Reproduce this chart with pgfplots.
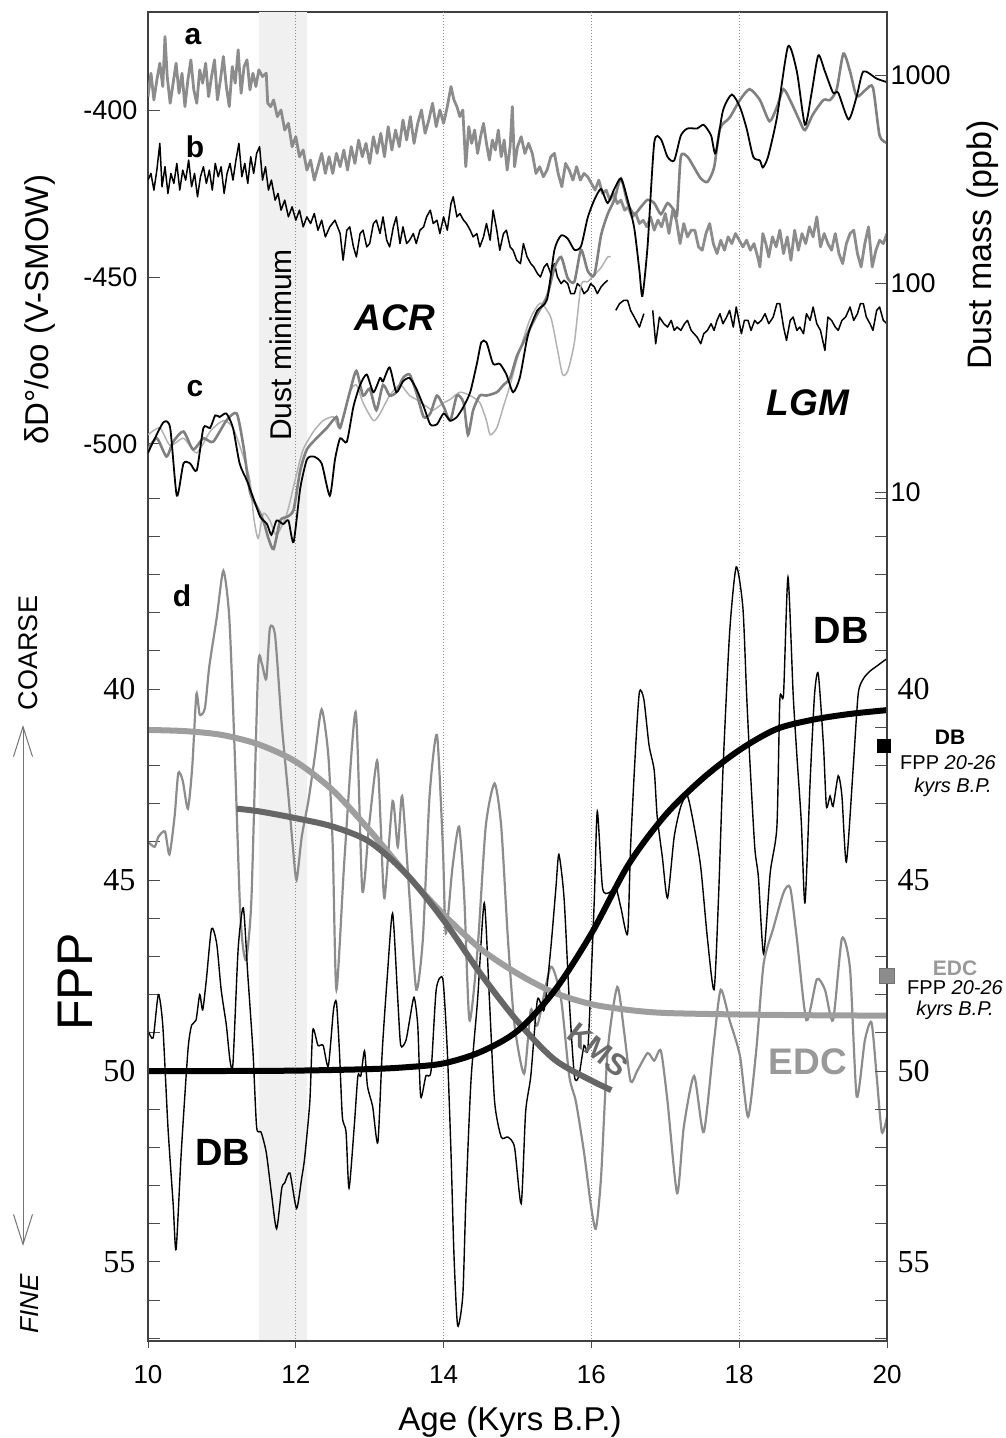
\documentclass[border=0pt]{standalone}
\usepackage{fontspec}
\setmainfont{Liberation Sans}
\newfontfamily\tms{Liberation Serif}
\usepackage{pgfplots}
\pgfplotsset{compat=1.18}
\usetikzlibrary{arrows.meta}
\newcommand{\fs}[1]{\fontsize{#1}{#1}\selectfont}
\begin{document}
\begin{tikzpicture}[x=1pt,y=1pt]
\path[use as bounding box] (0,0) rectangle (1005,1438);
\pgfplotsset{base/.style={scale only axis, width=739pt, height=1329pt, at={(148pt,97pt)}, anchor=south west,
  xmin=10, xmax=20, tick align=inside, major tick length=12pt, minor tick length=12pt, minor tick num=0,
  tick style={black!70, line width=1pt}, axis line style={black!75, line width=1.2pt}},
  noticks/.style={major tick length=0pt, minor tick length=0pt, tick style={draw=none}, minor tick style={draw=none}}}
% ---------------- Axis A : FPP (left) + frame ----------------
\begin{axis}[base, y dir=reverse, ymin=22.27, ymax=57.07, xtick=\empty, ytick pos=left,
  ytick={35,36,37,38,39,40,41,42,43,44,45,46,47,48,49,50,51,52,53,54,55,56,57},
  yticklabels={,,,,,40,,,,,45,,,,,50,,,,,55,,},
  extra y ticks={24.84,29.21,33.58}, extra y tick labels={},
  yticklabel style={font=\tms\fs{32}, xshift=-9pt}]
\fill[black!6] (axis cs:11.5,22.27) rectangle (axis cs:12.15,57.07);
\pgfplotsinvokeforeach{12,14,16,18}{\draw[black!45, dotted, line width=1pt] (axis cs:#1,22.27) -- (axis cs:#1,57.07);}
% EDC FPP
\addplot[black!45, line width=2.2pt, smooth, tension=0.4] table {
10.00 44.00
10.09 44.13
10.14 43.87
10.23 43.73
10.29 44.33
10.36 43.33
10.41 42.20
10.47 42.40
10.54 43.13
10.60 42.00
10.655 40.13
10.70 40.67
10.77 40.50
10.83 39.40
10.93 38.13
11.02 36.90
11.10 38.13
11.17 41.47
11.24 45.47
11.28 46.67
11.33 47.07
11.40 45.47
11.49 39.47
11.54 39.33
11.60 39.73
11.65 38.40
11.72 38.60
11.81 40.93
11.90 42.80
11.96 44.13
12.01 45.00
12.08 43.87
12.17 42.93
12.26 41.73
12.35 40.53
12.44 41.73
12.50 44.13
12.55 47.87
12.66 44.40
12.81 40.60
12.90 45.27
12.99 43.60
13.10 41.87
13.15 43.60
13.20 45.47
13.31 42.93
13.38 44.13
13.44 42.80
13.54 45.47
13.63 47.87
13.72 46.53
13.81 42.80
13.91 41.20
13.99 44.13
14.03 46.40
14.12 44.67
14.21 43.60
14.28 45.47
14.35 48.67
14.46 46.80
14.57 43.60
14.69 42.47
14.78 43.60
14.87 46.53
14.96 48.80
15.09 50.07
15.18 48.40
15.27 48.80
15.45 47.27
15.59 48.13
15.70 50.13
15.79 50.80
15.90 52.13
15.99 53.47
16.06 54.13
16.13 52.80
16.22 49.47
16.35 47.80
16.44 48.93
16.53 50.27
16.62 50.00
16.76 49.53
16.85 49.73
16.94 49.47
17.03 50.80
17.16 53.20
17.25 51.47
17.39 50.13
17.52 51.60
17.66 49.20
17.75 47.87
17.87 48.67
18.01 49.60
18.12 51.20
18.23 49.47
18.33 47.20
18.46 46.27
18.60 45.33
18.69 45.20
18.78 46.53
18.91 48.67
19.05 47.60
19.16 47.87
19.27 48.67
19.39 46.53
19.50 47.33
19.59 50.67
19.70 49.20
19.79 48.73
19.86 50.13
19.93 51.60
20.00 51.20
};
% DB FPP
\addplot[black, line width=1.4pt, smooth, tension=0.4] table {
10.00 48.93
10.07 49.13
10.14 48.00
10.20 48.80
10.27 51.47
10.34 53.47
10.38 54.67
10.45 52.13
10.54 49.47
10.59 48.80
10.65 48.67
10.70 48.00
10.74 48.40
10.79 47.60
10.86 46.27
10.93 46.67
10.99 47.87
11.06 48.80
11.11 49.73
11.15 49.80
11.22 46.80
11.29 45.73
11.35 47.47
11.42 49.47
11.47 51.47
11.53 51.60
11.60 52.13
11.67 53.20
11.74 54.13
11.81 53.07
11.85 52.93
11.92 52.67
12.01 53.60
12.08 52.80
12.12 52.27
12.19 50.80
12.23 48.93
12.30 49.33
12.37 49.33
12.44 49.87
12.51 48.40
12.55 48.20
12.59 49.47
12.63 51.20
12.68 51.60
12.72 53.07
12.79 51.47
12.84 50.13
12.88 50.13
12.93 49.47
12.97 50.40
13.04 50.93
13.11 51.87
13.17 49.47
13.24 47.47
13.31 45.87
13.38 48.13
13.42 49.33
13.49 49.20
13.54 48.67
13.60 48.07
13.65 48.80
13.69 50.67
13.76 50.13
13.83 50.00
13.90 47.87
13.99 47.60
14.05 49.47
14.10 52.13
14.14 54.80
14.19 56.67
14.26 55.87
14.30 53.47
14.37 50.27
14.46 48.13
14.55 45.60
14.62 48.13
14.69 50.80
14.78 51.73
14.87 51.73
14.96 52.00
15.05 53.47
15.11 51.07
15.18 50.13
15.27 48.13
15.36 48.40
15.45 46.80
15.52 45.20
15.56 44.33
15.63 45.47
15.70 48.13
15.77 50.13
15.83 50.13
15.90 49.33
15.95 49.47
15.99 47.87
16.04 45.47
16.08 43.20
16.15 45.20
16.24 45.33
16.33 45.20
16.40 45.73
16.49 46.40
16.53 44.13
16.60 41.47
16.65 40.07
16.71 40.27
16.78 41.47
16.85 42.13
16.89 43.33
16.96 44.40
17.03 45.47
17.12 43.87
17.21 43.07
17.30 42.80
17.39 43.60
17.48 44.67
17.57 46.53
17.66 47.87
17.72 45.47
17.78 42.13
17.87 38.53
17.96 36.80
18.05 37.87
18.10 40.13
18.14 41.73
18.21 44.13
18.26 44.93
18.33 46.93
18.42 44.80
18.51 43.60
18.55 40.27
18.60 40.13
18.66 37.07
18.73 40.13
18.78 41.73
18.84 43.47
18.89 45.60
18.96 42.40
19.02 40.13
19.07 39.60
19.14 41.47
19.18 43.07
19.23 42.80
19.27 43.07
19.34 42.27
19.39 42.80
19.45 44.53
19.54 42.13
19.61 40.13
19.68 39.73
19.77 39.53
19.86 39.40
19.95 39.27
20.00 39.20
};
% EDC fit
\addplot[black!38, line width=6pt, smooth] table {
10.0 41.07
10.5 41.10
11.0 41.20
11.5 41.45
12.0 41.90
12.5 42.65
13.0 43.70
13.5 44.85
14.0 45.90
14.5 46.80
15.0 47.45
15.5 47.95
16.0 48.25
16.5 48.40
17.0 48.48
18.0 48.52
19.0 48.54
20.0 48.55
};
% KMS fit
\addplot[black!60, line width=6pt, smooth] table {
11.20 43.13
11.50 43.20
12.00 43.38
12.50 43.60
13.00 44.00
13.50 44.85
14.00 46.05
14.50 47.45
15.00 48.70
15.50 49.70
16.00 50.25
16.27 50.50
};
% DB fit
\addplot[black, line width=6pt, smooth] table {
10.0 50.00
11.0 50.00
12.0 49.99
13.0 49.95
13.5 49.90
14.0 49.80
14.5 49.50
15.0 48.95
15.5 47.90
16.0 46.40
16.5 44.60
17.0 43.30
17.5 42.35
18.0 41.60
18.5 41.05
19.0 40.80
19.5 40.65
20.0 40.55
};
\end{axis}
% ---------------- Axis B : delta D ----------------
\begin{axis}[base, noticks, axis x line=none, xtick=\empty, axis y line*=left, ymin=-768.57, ymax=-370.66, ytick pos=left,
  ytick={-400,-450,-500}, yticklabels={-400,-450,-500},
  yticklabel style={font=\fs{27}, xshift=-7pt}]
\addplot[black!45, line width=2.8pt, line join=round] table {
10.00 -396
10.04 -389
10.08 -397
10.12 -391
10.16 -386
10.20 -393
10.23 -378
10.26 -390
10.30 -398
10.34 -392
10.38 -386
10.42 -395
10.46 -389
10.50 -399
10.54 -391
10.58 -385
10.62 -394
10.66 -398
10.70 -388
10.74 -392
10.78 -386
10.82 -396
10.86 -390
10.90 -385
10.94 -397
10.98 -391
11.02 -384
11.06 -393
11.10 -399
11.14 -387
11.18 -392
11.22 -382
11.26 -395
11.30 -387
11.34 -385
11.38 -394
11.42 -389
11.46 -393
11.50 -388
11.55 -390
11.60 -389
11.62 -398
11.66 -399
11.70 -397
11.75 -402
11.80 -400
11.85 -406
11.90 -404
11.95 -411
12.00 -408
12.05 -414
12.10 -412
12.15 -418
12.20 -415
12.25 -421
12.30 -417
12.35 -413
12.40 -419
12.45 -414
12.50 -419
12.55 -413
12.60 -417
12.65 -412
12.70 -418
12.75 -411
12.80 -416
12.85 -409
12.90 -414
12.95 -410
13.00 -416
13.05 -408
13.10 -413
13.15 -407
13.20 -414
13.25 -405
13.30 -412
13.35 -406
13.40 -411
13.45 -403
13.50 -409
13.55 -402
13.60 -410
13.65 -404
13.70 -400
13.75 -407
13.80 -403
13.85 -398
13.90 -405
13.95 -400
14.00 -404
14.05 -399
14.10 -393
14.14 -397
14.18 -399
14.22 -402
14.26 -400
14.30 -417
14.34 -405
14.38 -410
14.42 -406
14.46 -413
14.50 -408
14.54 -404
14.58 -410
14.62 -415
14.66 -409
14.70 -412
14.74 -406
14.78 -414
14.82 -409
14.86 -418
14.90 -411
14.93 -399
14.96 -417
15.00 -411
15.05 -408
15.10 -413
15.15 -410
15.20 -413
15.25 -419
15.30 -417
15.35 -420
15.40 -418
15.45 -414
15.50 -413
15.55 -419
15.60 -423
15.65 -416
15.70 -418
15.75 -421
15.80 -417
15.85 -421
15.90 -419
15.95 -420
16.00 -422
16.05 -424
16.10 -421
16.15 -425
16.20 -424
16.25 -427
16.30 -425
16.35 -428
16.40 -427
16.45 -430
16.50 -429
16.55 -432
16.60 -431
16.65 -434
16.70 -433
16.75 -435
16.80 -432
16.85 -436
16.90 -433
16.95 -435
17.00 -431
17.05 -437
17.10 -430
17.15 -433
17.20 -440
17.25 -434
17.30 -438
17.35 -436
17.40 -436
17.45 -441
17.50 -442
17.55 -437
17.60 -434
17.65 -440
17.70 -443
17.75 -439
17.80 -442
17.85 -438
17.90 -440
17.95 -437
18.00 -439
18.05 -441
18.10 -439
18.15 -442
18.20 -440
18.25 -444
18.28 -447
18.32 -437
18.36 -440
18.40 -444
18.45 -438
18.50 -441
18.55 -436
18.60 -443
18.65 -438
18.70 -445
18.75 -436
18.80 -442
18.85 -437
18.90 -440
18.95 -435
19.00 -438
19.05 -432
19.10 -441
19.15 -437
19.20 -440
19.25 -442
19.30 -437
19.35 -443
19.40 -446
19.45 -440
19.50 -437
19.55 -436
19.60 -443
19.65 -447
19.70 -440
19.75 -435
19.80 -447
19.85 -442
19.90 -439
19.95 -440
20.00 -437
};
\addplot[black, line width=1.5pt, line join=round] table {
10.00 -421
10.04 -419
10.08 -424
10.12 -418
10.16 -410
10.19 -423
10.23 -417
10.27 -425
10.31 -419
10.35 -422
10.39 -416
10.43 -424
10.47 -418
10.51 -421
10.55 -415
10.59 -423
10.63 -419
10.67 -426
10.71 -420
10.75 -417
10.79 -422
10.83 -418
10.87 -424
10.91 -416
10.95 -420
10.99 -417
11.03 -425
11.07 -419
11.11 -416
11.15 -421
11.19 -415
11.23 -410
11.27 -420
11.31 -416
11.35 -422
11.39 -414
11.43 -419
11.47 -413
11.51 -411
11.55 -421
11.59 -417
11.63 -424
11.67 -421
11.72 -427
11.76 -425
11.80 -430
11.85 -427
11.90 -432
11.95 -429
12.00 -433
12.05 -430
12.10 -435
12.15 -432
12.20 -434
12.25 -431
12.30 -436
12.35 -433
12.40 -438
12.46 -435
12.53 -433
12.60 -437
12.64 -445
12.69 -436
12.73 -435
12.78 -441
12.82 -444
12.87 -437
12.91 -436
12.96 -441
13.00 -440
13.05 -434
13.09 -433
13.14 -437
13.18 -432
13.23 -439
13.27 -441
13.32 -435
13.36 -432
13.41 -440
13.45 -435
13.50 -440
13.54 -439
13.59 -437
13.63 -440
13.68 -436
13.73 -435
13.77 -432
13.82 -430
13.86 -434
13.91 -433
13.95 -437
14.00 -432
14.05 -436
14.10 -428
14.13 -426
14.18 -432
14.22 -431
14.27 -433
14.31 -434
14.36 -436
14.40 -438
14.45 -437
14.49 -441
14.54 -438
14.58 -434
14.63 -439
14.67 -430
14.72 -436
14.76 -442
14.81 -437
14.85 -436
14.90 -441
14.94 -442
14.99 -445
15.04 -446
15.08 -440
15.13 -444
15.18 -446
15.22 -447
15.27 -449
15.31 -450
15.36 -447
15.40 -446
15.45 -449
15.50 -446
15.54 -450
15.59 -452
15.63 -451
15.68 -452
15.72 -455
15.77 -455
15.81 -452
15.86 -453
15.90 -455
15.95 -454
15.99 -452
16.04 -453
16.08 -455
16.13 -453
16.17 -452
16.22 -451
};
\addplot[black, line width=1.5pt, line join=round] table {
16.33 -460
16.38 -458
16.44 -457
16.49 -457
16.53 -460
16.58 -462
16.65 -465
16.71 -461
};
\addplot[black, line width=1.5pt, line join=round] table {
16.83 -460
16.87 -470
16.92 -462
16.98 -464
17.03 -465
17.08 -463
17.12 -466
17.16 -465
17.21 -466
17.26 -464
17.30 -463
17.35 -466
17.39 -467
17.43 -468
17.48 -470
17.52 -467
17.57 -466
17.62 -464
17.66 -466
17.70 -463
17.74 -461
17.78 -464
17.83 -462
17.87 -460
17.92 -465
17.96 -459
18.03 -467
18.07 -463
18.12 -463
18.16 -466
18.21 -463
18.25 -464
18.30 -463
18.35 -461
18.40 -464
18.46 -462
18.51 -458
18.55 -458
18.60 -465
18.64 -469
18.69 -463
18.73 -462
18.78 -466
18.82 -465
18.87 -467
18.91 -461
18.96 -463
19.00 -459
19.05 -464
19.10 -466
19.16 -472
19.20 -462
19.25 -463
19.30 -465
19.34 -466
19.39 -463
19.44 -462
19.50 -459
19.55 -463
19.60 -461
19.64 -458
19.68 -458
19.72 -462
19.77 -464
19.81 -466
19.86 -460
19.90 -459
19.95 -463
20.00 -464
};
\end{axis}
% ---------------- Axis C : dust mass (log) ----------------
\begin{axis}[base, noticks, axis x line=none, xtick=\empty, axis y line*=right, ymode=log, ymin=0.000847, ymax=2005, ytick pos=right,
  ytick={10,100,1000}, yticklabels={10,100,1000},
  yticklabel style={font=\fs{27}}]
\addplot[black!30, line width=1.5pt, smooth, tension=0.4] table {
10.00 18.8
10.16 20.3
10.30 16.7
10.48 18.1
10.66 15.4
10.84 19.5
11.02 22.0
11.15 20.3
11.29 14.8
11.38 11.3
11.43 7.59
11.49 5.99
11.56 7.90
11.65 7.30
11.74 6.23
11.88 7.90
12.01 12.2
12.10 16.0
12.24 19.5
12.37 22.0
12.51 22.9
12.60 20.3
12.73 30.1
12.82 32.6
12.91 26.8
13.05 22.0
13.14 23.8
13.27 29.0
13.41 32.6
13.54 29.0
13.63 27.8
13.77 25.7
13.86 24.7
14.00 26.8
14.09 27.8
14.22 30.1
14.36 29.0
14.49 26.8
14.58 22.0
14.63 18.8
14.72 20.3
14.81 25.7
14.90 32.6
14.99 42.9
15.08 54.3
15.18 68.8
15.31 80.5
15.45 68.8
15.54 48.3
15.61 36.6
15.68 38.1
15.77 52.2
15.86 98
15.95 102
16.04 110
16.13 119
16.22 134
16.26 134
};
\addplot[black!50, line width=2.6pt, smooth, tension=0.4] table {
10.00 16.0
10.12 18.1
10.25 14.8
10.34 17.4
10.48 19.5
10.61 16.0
10.75 18.1
10.88 17.4
11.06 22.0
11.20 23.8
11.29 16.7
11.38 10.0
11.47 8.55
11.56 7.30
11.63 5.99
11.70 5.33
11.79 7.30
11.88 7.59
11.97 8.22
12.06 12.7
12.15 16.0
12.28 18.1
12.42 20.3
12.55 22.9
12.60 20.3
12.73 30.1
12.82 38.1
12.91 29.0
13.00 31.3
13.09 24.7
13.18 32.6
13.27 29.0
13.36 30.1
13.45 35.2
13.54 36.6
13.63 30.1
13.73 22.9
13.82 23.8
13.91 29.0
14.00 25.7
14.09 22.0
14.18 29.0
14.27 26.8
14.33 18.8
14.40 24.7
14.49 29.0
14.58 29.0
14.72 30.1
14.81 32.6
14.90 35.2
14.99 44.7
15.08 52.2
15.17 61.1
15.27 71.6
15.40 87.1
15.50 119
15.59 134
15.68 106
15.77 102
15.86 145
15.95 115
16.04 110
16.13 170
16.22 215
16.31 252
16.40 319
16.49 243
16.58 215
16.67 233
16.76 252
16.85 243
16.94 215
17.03 243
17.12 224
17.16 215
17.21 405
17.30 405
17.39 360
17.48 319
17.57 307
17.66 360
17.74 554
17.87 624
18.01 759
18.14 855
18.28 759
18.41 600
18.51 702
18.60 855
18.71 730
18.82 600
18.89 544
19.00 649
19.14 759
19.23 759
19.32 855
19.41 1267
19.50 1040
19.59 790
19.72 855
19.81 871
19.90 512
20.00 473
};
\addplot[black, line width=1.8pt, smooth, tension=0.4] table {
10.00 15.4
10.07 17.4
10.21 21.6
10.30 20.3
10.39 9.6
10.48 13.7
10.57 13.7
10.66 12.7
10.75 20.3
10.84 20.3
10.91 23.3
10.97 22.9
11.06 23.8
11.15 20.3
11.24 13.7
11.34 11.3
11.43 9.25
11.52 7.59
11.61 7.02
11.67 6.23
11.74 7.30
11.83 7.02
11.90 7.30
11.97 5.76
12.06 10.4
12.15 14.3
12.24 14.8
12.35 13.7
12.46 9.6
12.53 14.3
12.60 18.1
12.69 17.4
12.78 25.7
12.87 32.6
12.96 36.6
13.05 30.1
13.14 35.2
13.18 33.9
13.27 39.6
13.36 30.1
13.45 33.9
13.54 35.2
13.63 31.3
13.73 25.7
13.82 21.1
13.91 21.1
14.00 23.8
14.09 22.0
14.18 22.9
14.27 25.7
14.36 30.1
14.45 41.2
14.51 52.2
14.58 52.2
14.67 41.2
14.76 41.2
14.85 36.6
14.94 30.1
15.03 35.2
15.12 52.2
15.17 61.1
15.27 74.4
15.40 83.8
15.50 145
15.59 170
15.68 164
15.77 145
15.86 151
15.95 207
16.04 252
16.13 284
16.22 243
16.31 284
16.40 319
16.49 252
16.58 184
16.65 115
16.69 87.1
16.76 151
16.85 473
16.94 492
17.03 405
17.12 389
17.21 512
17.30 554
17.43 554
17.52 577
17.62 512
17.68 421
17.78 675
17.90 806
18.01 702
18.10 554
18.19 405
18.28 389
18.32 360
18.39 405
18.51 624
18.66 1370
18.78 1040
18.89 577
18.98 822
19.07 1242
19.16 1040
19.27 822
19.34 822
19.48 612
19.59 790
19.68 1040
19.86 961
20.00 924
};
\end{axis}
% ---------------- Axis D : FPP (right) + FPP 20-26 kyr markers ----------------
\begin{axis}[base, axis x line=none, xtick=\empty, axis y line*=right, y dir=reverse, ymin=22.27, ymax=57.07, clip=false, ytick pos=right,
  ytick={35,36,37,38,39,40,41,42,43,44,45,46,47,48,49,50,51,52,53,54,55,56,57},
  yticklabels={,,,,,40,,,,,45,,,,,50,,,,,55,,},
  extra y ticks={23.92,29.37,34.84}, extra y tick labels={},
  yticklabel style={font=\tms\fs{32}, xshift=7pt}]
\addplot[only marks, mark=square*, mark size=6.5pt, mark options={fill=black, draw=black}] coordinates {(19.95,41.49)};
\addplot[only marks, mark=square*, mark size=7.5pt, mark options={fill=black!45, draw=black!55}] coordinates {(19.99,47.51)};
\end{axis}
% ---------------- Axis E : x axis ----------------
\begin{axis}[base, axis y line=none, ytick=\empty, axis x line*=bottom, ymin=0, ymax=1,
  xtick={10,12,14,16,18,20}, xticklabels={10,12,14,16,18,20}, tick align=outside, major tick length=7pt,
  xticklabel style={font=\fs{26}, yshift=-14pt}]
\end{axis}
% ---------------- Text ----------------
\node[font=\fs{33}] at (510,16) {Age (Kyrs B.P.)};
\node[font=\fs{33}, rotate=90] at (40,1128) {δD°/oo (V-SMOW)};
\node[font=\fs{34}, rotate=90] at (983,1193) {Dust mass (ppb)};
\node[font=\fs{50}, rotate=90] at (75,456) {FPP};
\node[font=\fs{27}, rotate=90] at (28,785) {COARSE};
\node[font=\itshape\fs{26}, rotate=90] at (30,134) {FINE};
\draw[black!55, line width=1pt, {Straight Barb[length=30pt,width=19pt]}-{Straight Barb[length=30pt,width=19pt]}] (23,713) -- (23,192);
\node[font=\bfseries\fs{30}] at (193,1401) {a};
\node[font=\bfseries\fs{30}] at (195,1291) {b};
\node[font=\bfseries\fs{30}] at (195,1049) {c};
\node[font=\bfseries\fs{30}] at (182,842) {d};
\node[font=\bfseries\itshape\fs{37}] at (395,1120) {ACR};
\node[font=\bfseries\itshape\fs{37}] at (808,1035) {LGM};
\node[font=\fs{30}, rotate=90] at (281,1093) {Dust minimum};
\node[font=\bfseries\fs{38}] at (223,286) {DB};
\node[font=\bfseries\fs{38}] at (841,808) {DB};
\node[font=\bfseries\fs{37}, text=black!40] at (808,376) {EDC};
\node[font=\bfseries\fs{30}, text=black!58, rotate=-38, inner sep=0pt] at (598,388) {KMS};
\node[font=\bfseries\fs{21}] at (950,701) {DB};
\node[font=\fs{20}] at (948,675) {FPP \textit{20-26}};
\node[font=\itshape\fs{20}] at (953,651) {kyrs B.P.};
\node[font=\bfseries\fs{21}, text=black!40] at (955,470) {EDC};
\node[font=\fs{20}] at (955,450) {FPP \textit{20-26}};
\node[font=\itshape\fs{20}] at (955,428) {kyrs B.P.};
\end{tikzpicture}
\end{document}
